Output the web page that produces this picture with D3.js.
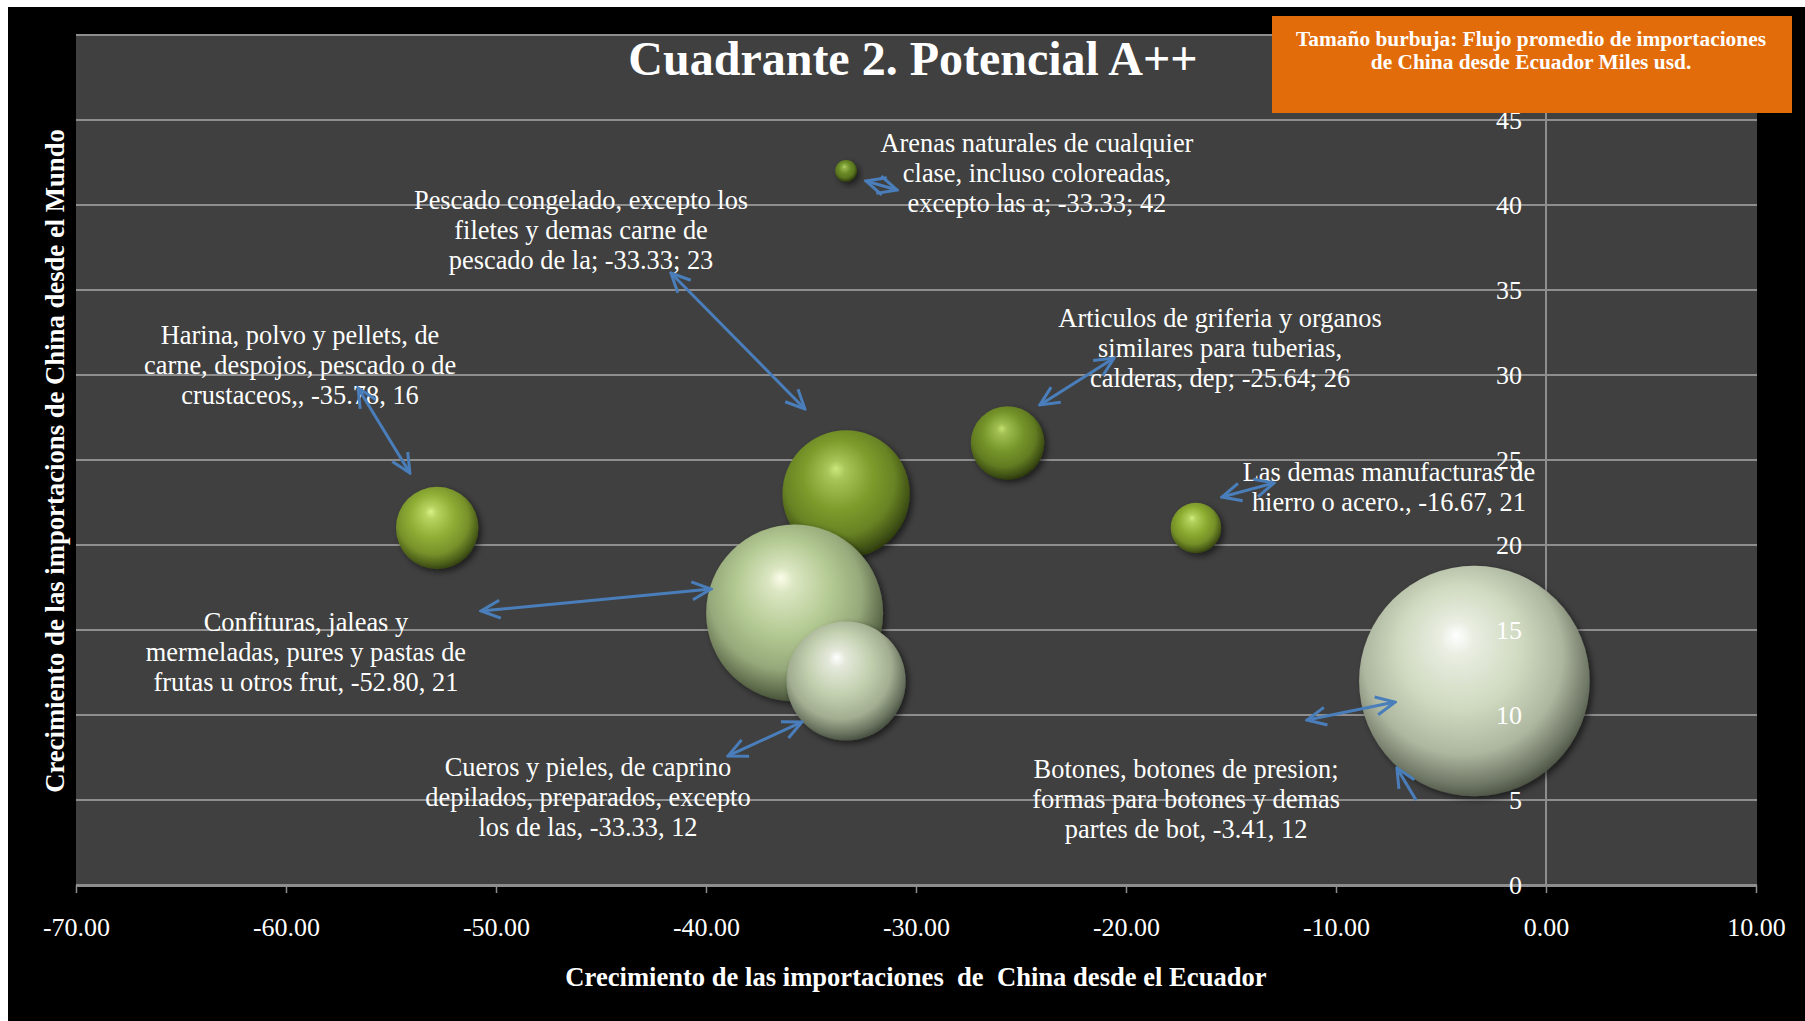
<!DOCTYPE html>
<html><head><meta charset="utf-8">
<script src="https://cdn.jsdelivr.net/npm/d3@7"></script>
<style>
body{margin:0;background:#fff;}
svg{display:block;}
text{font-family:"Liberation Serif","Times New Roman",serif;}
</style>
</head><body>
<svg id="chart" width="1805" height="1021"></svg>
<script>
// ---------------- DATA ----------------
const categories = [
  "Arenas naturales de cualquier clase, incluso coloreadas, excepto las a",
  "Pescado congelado, excepto los filetes y demas carne de pescado de la",
  "Harina, polvo y pellets, de carne, despojos, pescado o de crustaceos",
  "Cueros y pieles, de caprino depilados, preparados, excepto los de las",
  "Confituras, jaleas y mermeladas, pures y pastas de frutas u otros frut",
  "Articulos de griferia y organos similares para tuberias, calderas, dep",
  "Las demas manufacturas de hierro o acero.",
  "Botones, botones de presion; formas para botones y demas partes de bot"
];
const crecimientoEcuador = [-33.33, -33.33, -35.78, -33.33, -52.80, -25.64, -16.67, -3.41];
const crecimientoMundo   = [42, 23, 16, 12, 21, 26, 21, 12];
const flujoMilesUsd      = [9, 305, 589, 267, 128, 102, 48, 1000];

const xTickValues = [-70, -60, -50, -40, -30, -20, -10, 0, 10];
const yGridValues = [0, 5, 10, 15, 20, 25, 30, 35, 40, 45, 50];
const yTickLabelValues = [0, 5, 10, 15, 20, 25, 30, 35, 40, 45];

// data-label text as shown on the chart (labels were moved by hand in the source)
const labelLines = [
  ["Arenas naturales de cualquier", "clase, incluso coloreadas,", "excepto las a; -33.33; 42"],
  ["Pescado congelado, excepto los", "filetes y demas carne de", "pescado de la; -33.33; 23"],
  ["Harina, polvo y pellets, de", "carne, despojos, pescado o de", "crustaceos,, -35.78, 16"],
  ["Cueros y pieles, de caprino", "depilados, preparados, excepto", "los de las, -33.33, 12"],
  ["Confituras, jaleas y", "mermeladas, pures y pastas de", "frutas u otros frut, -52.80, 21"],
  ["Articulos de griferia y organos", "similares para tuberias,", "calderas, dep; -25.64; 26"],
  ["Las demas manufacturas de", "hierro o acero., -16.67, 21"],
  ["Botones, botones de presion;", "formas para botones y demas", "partes de bot, -3.41, 12"]
];
// label anchor (centre of first line) in data units
const labelAnchorX = [-24.24, -45.95, -59.33, -45.62, -59.05, -15.52, -7.48, -17.14];
const labelAnchorY = [43.65, 40.29, 32.35, 6.94, 15.47, 33.35, 24.29, 6.82];
// leader arrows in data units: [x1, y1, x2, y2, doubleHeaded]
const leaderArrows = [
  [-32.38, 41.41, -30.90, 40.88, 1],
  [-41.67, 36.00, -35.29, 28.00, 1],
  [-56.57, 29.24, -54.10, 24.24, 1],
  [-38.95, 7.59, -35.43, 9.59, 1],
  [-50.71, 16.12, -39.76, 17.41, 1],
  [-20.57, 31.00, -24.10, 28.24, 1],
  [-12.95, 23.65, -15.43, 22.82, 1],
  [-11.38, 9.71, -7.19, 10.76, 1],
  [-6.19, 5.00, -7.10, 6.88, 0]
];

// bubble colours [highlight, base, dark]
const bubbleColors = [
  ["#b9d86a", "#6a8a26", "#243008"],
  ["#cbe87c", "#7d9c2c", "#2a360c"],
  ["#fbfdea", "#b3c992", "#3c4630"],
  ["#ffffff", "#c2cfae", "#40483a"],
  ["#d9f386", "#8fae34", "#2e3a0e"],
  ["#c3e070", "#76952a", "#27320b"],
  ["#d2f082", "#8cac30", "#2d390e"],
  ["#ffffff", "#cfd9bf", "#474e40"]
];

// ---------------- CHART ----------------
const svg = d3.select("#chart");
const W = 1805, H = 1021;
const plot = {left: 76, right: 1756, top: 35, bottom: 885};
const hyphen = s => s.replace(/\u2212/g, "-");

svg.append("rect").attr("x", 0).attr("y", 0).attr("width", W).attr("height", H).attr("fill", "#ffffff");
svg.append("rect").attr("x", 8).attr("y", 7).attr("width", W - 8).attr("height", H - 7).attr("fill", "#000000");

const x = d3.scaleLinear().domain([-70, 10]).range([plot.left, plot.right]);
const y = d3.scaleLinear().domain([0, 50]).range([plot.bottom, plot.top]);
const r = d3.scaleSqrt().domain([0, 1000]).range([0, 115.3]);

svg.append("rect").attr("x", plot.left).attr("y", plot.top)
  .attr("width", plot.right - plot.left + 1).attr("height", plot.bottom - plot.top)
  .attr("fill", "#404040");

const defs = svg.append("defs");
bubbleColors.forEach((c, i) => {
  const g = defs.append("radialGradient").attr("id", "bub" + i)
    .attr("cx", 0.46).attr("cy", 0.42).attr("r", 0.6).attr("fx", 0.42).attr("fy", 0.3);
  g.append("stop").attr("offset", "0%").attr("stop-color", c[0]);
  g.append("stop").attr("offset", "12%").attr("stop-color", d3.interpolateRgb(c[0], c[1])(0.45));
  g.append("stop").attr("offset", "45%").attr("stop-color", c[1]);
  g.append("stop").attr("offset", "72%").attr("stop-color", d3.interpolateRgb(c[1], c[2])(0.25));
  g.append("stop").attr("offset", "90%").attr("stop-color", d3.interpolateRgb(c[1], c[2])(0.7));
  g.append("stop").attr("offset", "100%").attr("stop-color", c[2]);
});
const sh = defs.append("filter").attr("id", "shadow").attr("x", "-20%").attr("y", "-20%").attr("width", "150%").attr("height", "150%");
sh.append("feDropShadow").attr("dx", 3).attr("dy", 3).attr("stdDeviation", 3)
  .attr("flood-color", "#000").attr("flood-opacity", 0.55);

const mk = defs.append("marker").attr("id", "arrowhead")
  .attr("viewBox", "0 0 24 24").attr("refX", 22).attr("refY", 12)
  .attr("markerWidth", 24).attr("markerHeight", 24)
  .attr("markerUnits", "userSpaceOnUse").attr("orient", "auto-start-reverse");
mk.append("path").attr("d", "M3,3 L22,12 L3,21").attr("fill", "none")
  .attr("stroke", "#4a7ebb").attr("stroke-width", 3);

// gridlines
svg.append("g").selectAll("line").data(yGridValues).join("line")
  .attr("x1", plot.left).attr("x2", plot.right + 1)
  .attr("y1", d => y(d)).attr("y2", d => y(d))
  .attr("stroke", "#8e8e8e").attr("stroke-width", 2);
// vertical axis line at x = 0
svg.append("line").attr("x1", x(0)).attr("x2", x(0)).attr("y1", plot.top).attr("y2", plot.bottom)
  .attr("stroke", "#8e8e8e").attr("stroke-width", 2);

// x axis
const xAxis = svg.append("g").attr("transform", `translate(0,${plot.bottom})`)
  .call(d3.axisBottom(x).tickValues(xTickValues).tickFormat(d => hyphen(d3.format(".2f")(d))).tickSize(8).tickSizeOuter(0));
xAxis.select(".domain").attr("stroke", "#8e8e8e").attr("stroke-width", 3);
xAxis.selectAll(".tick line").attr("stroke", "#8e8e8e").attr("stroke-width", 1.5);
xAxis.selectAll(".tick text").attr("fill", "#ffffff").attr("font-size", 26)
  .attr("font-family", "Liberation Serif").attr("y", 33);

// bubbles
const idx = d3.range(categories.length);
svg.append("g").selectAll("circle").data(idx).join("circle")
  .attr("cx", i => x(crecimientoEcuador[i]))
  .attr("cy", i => y(crecimientoMundo[i]))
  .attr("r", i => r(flujoMilesUsd[i]))
  .attr("fill", i => `url(#bub${i})`)
  .attr("filter", "url(#shadow)");

// y axis (labels drawn over bubbles)
const yAxis = svg.append("g").attr("transform", `translate(${x(0)},0)`)
  .call(d3.axisLeft(y).tickValues(yTickLabelValues).tickFormat(d3.format("d")).tickSize(0).tickPadding(24));
yAxis.select(".domain").remove();
yAxis.selectAll(".tick text").attr("fill", "#ffffff").attr("font-size", 26)
  .attr("font-family", "Liberation Serif");

// data labels
const lg = svg.append("g");
idx.forEach(i => {
  const t = lg.append("text").attr("text-anchor", "middle")
    .attr("fill", "#ffffff").attr("font-size", 26.4);
  labelLines[i].forEach((ln, k) => {
    t.append("tspan").attr("x", x(labelAnchorX[i])).attr("y", y(labelAnchorY[i]) + k * 30).attr("dy", "0.33em").text(ln);
  });
});

// leader arrows
svg.append("g").selectAll("line").data(leaderArrows).join("line")
  .attr("x1", d => x(d[0])).attr("y1", d => y(d[1]))
  .attr("x2", d => x(d[2])).attr("y2", d => y(d[3]))
  .attr("stroke", "#4a7ebb").attr("stroke-width", 3)
  .attr("marker-end", "url(#arrowhead)")
  .attr("marker-start", d => d[4] ? "url(#arrowhead)" : null);

// title
svg.append("text").attr("x", 913).attr("y", 58).attr("dy", "0.35em")
  .attr("text-anchor", "middle").attr("fill", "#ffffff")
  .attr("font-size", 48).attr("font-weight", "bold")
  .text("Cuadrante 2. Potencial A++");

// legend box
svg.append("rect").attr("x", 1272).attr("y", 16).attr("width", 520).attr("height", 97).attr("fill", "#e36c0a");
const lb = svg.append("text").attr("text-anchor", "middle").attr("fill", "#ffffff")
  .attr("font-size", 21.4).attr("font-weight", "bold");
lb.append("tspan").attr("x", 1531).attr("y", 39).attr("dy", "0.35em").text("Tamaño burbuja: Flujo promedio de importaciones");
lb.append("tspan").attr("x", 1531).attr("y", 62).attr("dy", "0.35em").text("de China desde Ecuador Miles usd.");

// axis titles
svg.append("text").attr("x", 916).attr("y", 977).attr("dy", "0.35em")
  .attr("text-anchor", "middle").attr("fill", "#ffffff")
  .attr("font-size", 26.6).attr("font-weight", "bold")
  .style("white-space", "pre")
  .text("Crecimiento de las importaciones  de  China desde el Ecuador");
svg.append("text").attr("transform", "translate(55,461) rotate(-90)").attr("dy", "0.35em")
  .attr("text-anchor", "middle").attr("fill", "#ffffff")
  .attr("font-size", 26.7).attr("font-weight", "bold")
  .text("Crecimiento de las importacions de China desde el Mundo");
</script>
</body></html>
